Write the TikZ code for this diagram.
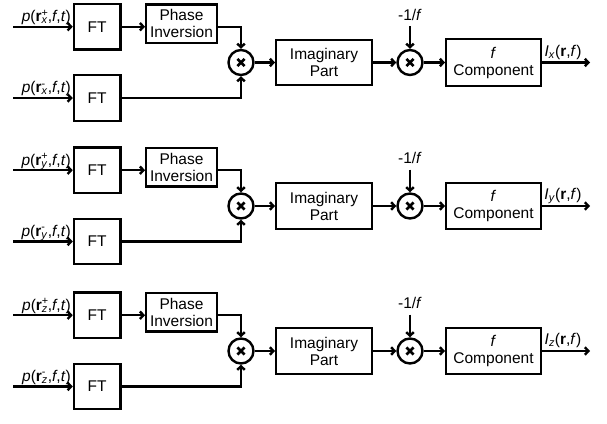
\documentclass[tikz,border=0pt]{standalone}
\usepackage{fontspec}
\setmainfont{Liberation Sans}
\usetikzlibrary{arrows.meta}
\newcommand{\supsub}[2]{\rlap{\textsuperscript{#1}}\textsubscript{\textit{#2}}}
\begin{document}
\begin{tikzpicture}[x=1pt,y=-1pt,
  font=\fontsize{15.5}{17}\selectfont,
  blk/.style={draw, line width=2.4pt, align=center, inner sep=0pt},
  mult/.style={draw, circle, line width=2.4pt, minimum size=25pt, inner sep=0pt,
    path picture={
      \draw[line width=2.8pt]
        ([shift={(-3.6pt,-3.6pt)}]path picture bounding box.center) --
        ([shift={(3.6pt,3.6pt)}]path picture bounding box.center)
        ([shift={(-3.6pt,3.6pt)}]path picture bounding box.center) --
        ([shift={(3.6pt,-3.6pt)}]path picture bounding box.center);}},
  conn/.style={line width=2.4pt, -{Straight Barb[length=3.5pt,width=7.5pt]}},
  lab/.style={inner sep=0pt},
]
\useasboundingbox (0,0) rectangle (607,423);
\foreach \i/\o/\s in {0/0/x, 1/143.5/y, 2/288.5/z}{
  % nodes
  \node[blk, minimum width=46.5pt, minimum height=45.5pt] (ftA\i) at (97.2,{26.7+\o}) {FT};
  \node[blk, minimum width=46.5pt, minimum height=45.5pt] (ftB\i) at (97.2,{98+\o}) {FT};
  \node[blk, minimum width=70.5pt, minimum height=38.5pt] (ph\i) at (181.5,{23.7+\o}) {Phase\\Inversion};
  \node[mult] (ma\i) at (241,{62.5+\o}) {};
  \node[blk, minimum width=95.5pt, minimum height=45.5pt] (im\i) at (324,{62.5+\o}) {Imaginary\\Part};
  \node[mult] (mb\i) at (410,{62.5+\o}) {};
  \node[blk, minimum width=94.5pt, minimum height=46.5pt] (co\i) at (493.5,{62.5+\o}) {\textit{f}\\Component};
  \coordinate (ina\i) at (13,{26.7+\o});
  \coordinate (inb\i) at (13,{98+\o});
  \coordinate (top\i) at (410,{26+\o});
  \coordinate (out\i) at (590,{62.5+\o});
  % labels
  \node[lab, anchor=base east] (la\i) at (71,{21.5+\o}) {\textit{p}(\textbf{r}\supsub{+}{\s},\textit{f},\textit{t})};
  \node[lab, anchor=base east] (lb\i) at (71,{92.5+\o}) {\textit{p}(\textbf{r}\supsub{-}{\s},\textit{f},\textit{t})};
  \node[lab, anchor=base] (lf\i) at (410,{20+\o}) {-1/\textit{f}};
  \node[lab, anchor=base] (lo\i) at (563,{56+\o}) {\textit{I}\textsubscript{\textit{\s}}(\textbf{r},\textit{f})};
  % connectors
  \draw[conn] (ina\i) -- (ftA\i.west);
  \draw[conn] (inb\i) -- (ftB\i.west);
  \draw[conn] (ftA\i.east) -- (ftA\i.east -| ph\i.west);
  \draw[conn] (ftA\i.east -| ph\i.east) -| (ma\i.north);
  \draw[conn] (ftB\i.east) -| (ma\i.south);
  \draw[conn] (ma\i.east) -- (im\i.west);
  \draw[conn] (im\i.east) -- (mb\i.west);
  \draw[conn] (top\i) -- (mb\i.north);
  \draw[conn] (mb\i.east) -- (co\i.west);
  \draw[conn] (co\i.east) -- (out\i);
}
\end{tikzpicture}
\end{document}
